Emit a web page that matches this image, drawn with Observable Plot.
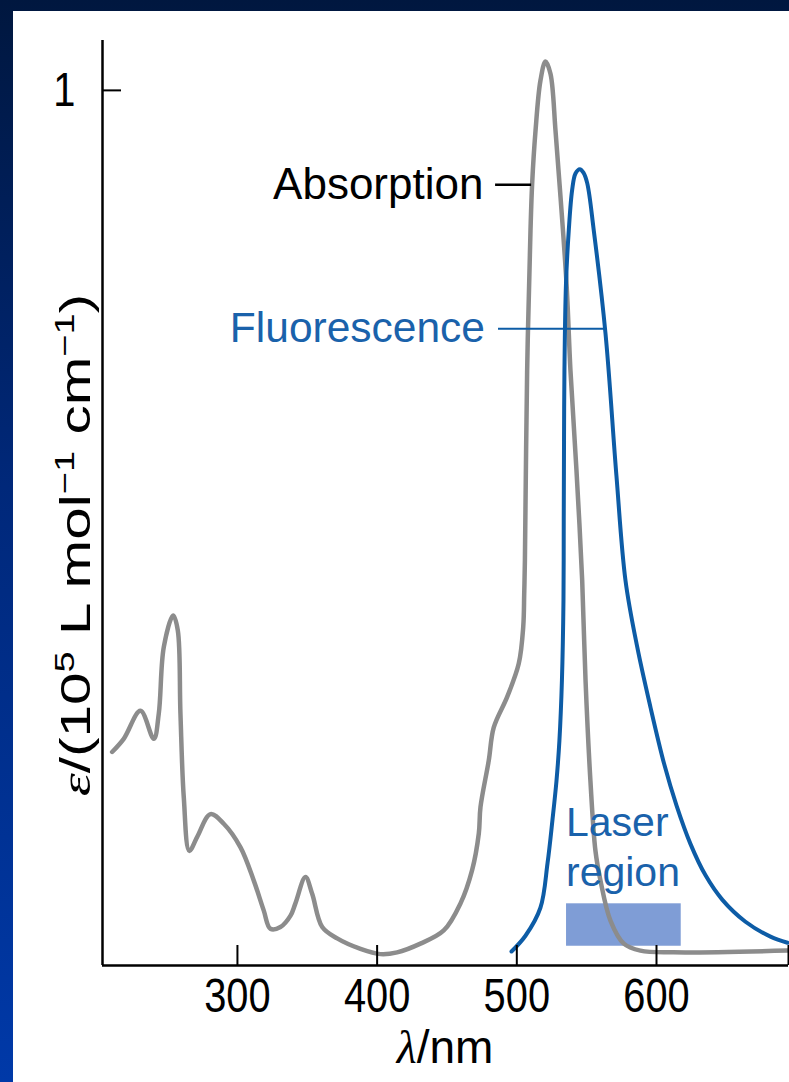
<!DOCTYPE html>
<html><head><meta charset="utf-8">
<script src="https://cdn.jsdelivr.net/npm/d3@7"></script>
<script src="https://cdn.jsdelivr.net/npm/@observablehq/plot@0.6"></script>
<style>
html,body{margin:0;padding:0;}
body{width:789px;height:1082px;overflow:hidden;position:relative;
  background:linear-gradient(to bottom,#00173f 0%,#00287a 45%,#0039a8 100%);}
#chart{position:absolute;left:13px;top:11px;width:776px;height:1071px;background:#fff;}
</style></head><body><div id="chart"></div>
<script>
// Absorption spectrum (nm, 10^5 L mol^-1 cm^-1)
const absWavelength = [210.3,218.6,230.6,240.1,243.7,247.3,254.0,257.3,259.2,261.6,265.6,271.2,280.7,290.2,302.2,311.7,318.8,323.6,330.8,338.0,341.5,348.7,353.5,360.7,371.4,388.1,402.4,414.3,431.0,447.7,459.7,468.0,472.8,474.0,479.9,483.5,493.1,501.4,504.6,505.3,505.8,507.4,509.8,511.0,513.4,516.9,520.5,524.1,527.7,531.3,535.6,538.4,542.7,546.8,549.2,552.7,556.3,559.9,567.1,576.6,588.5,612.2,693.8];
const absValue = [0.244,0.259,0.291,0.259,0.288,0.364,0.400,0.383,0.288,0.192,0.131,0.147,0.173,0.162,0.135,0.097,0.063,0.042,0.044,0.057,0.071,0.101,0.082,0.044,0.031,0.019,0.013,0.015,0.025,0.040,0.071,0.109,0.151,0.181,0.234,0.272,0.307,0.345,0.387,0.425,0.463,0.680,0.840,0.894,0.954,1.011,1.033,1.019,0.954,0.878,0.779,0.680,0.566,0.440,0.326,0.211,0.131,0.097,0.051,0.025,0.017,0.015,0.017];
// Fluorescence spectrum (relative)
const fluWavelength = [496.2,506.2,516.9,522.0,525.5,528.4,530.5,532.3,533.4,533.6,533.8,534.1,535.2,537.2,539.6,542.0,545.1,547.7,550.4,555.1,563.5,571.3,577.8,586.2,595.7,605.7,614.3,624.3,635.1,647.2,663.7,681.6,693.8];
const fluValue = [0.016,0.034,0.066,0.117,0.166,0.211,0.257,0.326,0.417,0.509,0.600,0.680,0.779,0.840,0.886,0.905,0.910,0.906,0.894,0.840,0.722,0.560,0.440,0.364,0.295,0.229,0.183,0.139,0.103,0.075,0.050,0.033,0.026];
// Laser region band
const laserX = [535.6, 617.7];
const laserY = [0.022, 0.0705];
// Axes
const xTicks = [300, 400, 500, 600];
const yTicks = [1];
const xDomain = [203.4, 694.5];
const yDomain = [0, 1.057];
// Series labels
const seriesNames = ["Absorption", "Fluorescence"];
const labelX = [476.1, 477.2];
const labelY = [0.8922, 0.7277];
const leaderX1 = [484.8, 486.9];
const leaderX2 = [510.6, 564.2];
const laserLabel = "Laser\nregion";
const laserLabelX = 535.2;
const laserLabelY = 0.0903;

const GRAY = "#8c8c8c", BLUE = "#0d5ca6", TEXTBLUE = "#1a62ab", BAND = "#7f9dd6";
const FONT = "'Liberation Sans', Arial, Helvetica, sans-serif";

const absData = absWavelength.map((x, i) => ({x, y: absValue[i]}));
const fluData = fluWavelength.map((x, i) => ({x, y: fluValue[i]}));
const labels = seriesNames.map((t, i) => ({t, x: labelX[i], y: labelY[i], x1: leaderX1[i], x2: leaderX2[i]}));

const W = 776, H = 1071;
const svg = Plot.plot({
  width: W, height: H,
  marginLeft: 89, marginRight: 1, marginTop: 29, marginBottom: 117,
  style: {fontFamily: FONT, background: "white", color: "black", overflow: "visible"},
  x: {domain: xDomain, axis: null},
  y: {domain: yDomain, axis: null},
  marks: [
    Plot.rectY([0], {x1: laserX[0], x2: laserX[1], y1: laserY[0], y2: laserY[1], fill: BAND}),
    Plot.line(absData, {x: "x", y: "y", stroke: GRAY, strokeWidth: 4.5, curve: "catmull-rom"}),
    Plot.line(fluData, {x: "x", y: "y", stroke: BLUE, strokeWidth: 4, curve: "catmull-rom"}),
    Plot.ruleY(labels.slice(0,1), {x1: "x1", x2: "x2", y: "y", stroke: "black", strokeWidth: 2.5}),
    Plot.ruleY(labels.slice(1), {x1: "x1", x2: "x2", y: "y", stroke: BLUE, strokeWidth: 2}),
    Plot.text(labels.slice(0,1), {x: "x", y: "y", text: "t", textAnchor: "end", lineAnchor: "middle", fontSize: 44, fill: "black"}),
    Plot.text(labels.slice(1), {x: "x", y: "y", text: "t", textAnchor: "end", lineAnchor: "middle", fontSize: 42.5, fill: TEXTBLUE}),
    Plot.text([laserLabel], {x: () => laserLabelX, y: () => laserLabelY, text: d => d, textAnchor: "start", lineAnchor: "bottom", lineHeight: 1.24, fontSize: 41, fill: TEXTBLUE}),
    // axis lines
    Plot.ruleY([yDomain[0]], {stroke: "black", strokeWidth: 2.5}),
    Plot.ruleX([xDomain[0]], {stroke: "black", strokeWidth: 2.5}),
    // inward ticks
    Plot.axisX({ticks: [...xTicks, xDomain[1]], tickSize: -20, tickFormat: () => "", label: null, strokeWidth: 2}),
    Plot.axisY({ticks: yTicks, tickSize: -19, tickFormat: () => "", label: null, strokeWidth: 2}),
    // tick labels
    Plot.axisX({ticks: xTicks, tickSize: 0, tickPadding: 12, label: null, fontSize: 48, tickFormat: d => String(d)}),
    Plot.axisY({ticks: yTicks, tickSize: 0, tickPadding: 27, label: null, fontSize: 48, tickFormat: d => String(d)})
  ]
});
document.getElementById("chart").appendChild(svg);

const s = d3.select(svg);
// narrow the tick labels horizontally about their anchor (the reference digits are condensed)
function squeeze(sel, sx) {
  sel.each(function() {
    const t = this.getAttribute("transform") || "";
    const x = parseFloat(this.getAttribute("x")) || 0;
    this.setAttribute("transform", `${t} translate(${x},0) scale(${sx},1) translate(${-x},0)`);
  });
}
squeeze(s.selectAll('g[aria-label="x-axis tick label"] text'), 0.83);
squeeze(s.selectAll('g[aria-label="y-axis tick label"] text'), 0.83);

// Axis titles with italic symbols and superscripts
const xl = s.append("text").attr("x", 432).attr("y", 1052).attr("text-anchor", "middle")
  .attr("font-size", 46).attr("font-family", FONT).attr("fill", "black");
xl.append("tspan").attr("font-family", "'Liberation Serif', serif").attr("font-style", "italic").text("λ");
xl.append("tspan").text("/nm");

const yl = s.append("text").attr("transform", "translate(77,534) rotate(-90) scale(1.36,1)").attr("text-anchor", "middle")
  .attr("font-size", 43).attr("font-family", FONT).attr("fill", "black");
yl.append("tspan").attr("font-family", "'Liberation Serif', serif").attr("font-style", "italic").text("ε");
yl.append("tspan").text("/(10");
yl.append("tspan").attr("font-size", 28).attr("dy", -16).text("5");
yl.append("tspan").attr("dy", 16).text(" L mol");
yl.append("tspan").attr("font-size", 28).attr("dy", -16).text("−1");
yl.append("tspan").attr("dy", 16).text(" cm");
yl.append("tspan").attr("font-size", 28).attr("dy", -16).text("−1");
yl.append("tspan").attr("dy", 16).text(")");
</script></body></html>
